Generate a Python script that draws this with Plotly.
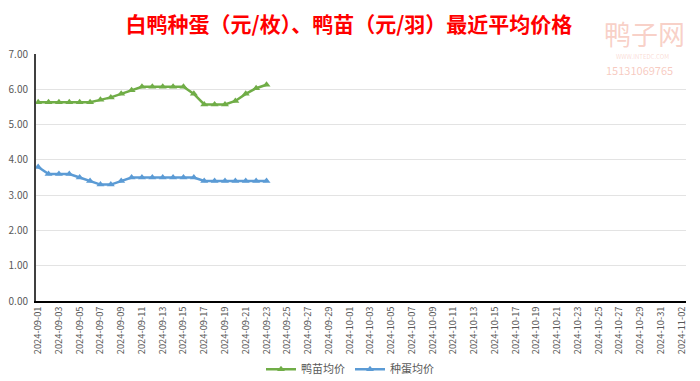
import pandas as pd
import plotly.graph_objects as go

dates = pd.date_range("2024-09-01", "2024-09-23", freq="D").strftime("%Y-%m-%d").tolist()
duckling_price = [5.63, 5.63, 5.63, 5.63, 5.63, 5.63, 5.70, 5.77, 5.87, 5.97, 6.07, 6.07,
                  6.07, 6.07, 6.07, 5.87, 5.57, 5.57, 5.57, 5.67, 5.87, 6.03, 6.13]
egg_price = [3.8, 3.6, 3.6, 3.6, 3.5, 3.4, 3.3, 3.3, 3.4, 3.5, 3.5, 3.5,
             3.5, 3.5, 3.5, 3.5, 3.4, 3.4, 3.4, 3.4, 3.4, 3.4, 3.4]
y_ticks = [0, 1, 2, 3, 4, 5, 6, 7]
y_tick_labels = ["0.00", "1.00", "2.00", "3.00", "4.00", "5.00", "6.00", "7.00"]
series_names = ["鸭苗均价", "种蛋均价"]
title_text = "白鸭种蛋（元/枚）、鸭苗（元/羽）最近平均价格"
watermark_name = "鸭子网"
watermark_site = "WWW.INTEDC.COM"
watermark_phone = "15131069765"

font_family = "Noto Sans CJK SC, Noto Sans, sans-serif"

W, H = 692, 388
T, B, L, R = 46, 92, 28, 14
PH = H - T - B  # plot height in px


def py(fig_y):
    """paper y for a figure-pixel y"""
    return (H - B - fig_y) / PH


def px(fig_x):
    return (fig_x - L) / (W - L - R)


fig = go.Figure()
fig.add_trace(go.Scatter(
    x=dates, y=duckling_price, name=series_names[0], mode="lines+markers",
    line=dict(color="#70ad47", width=2.5),
    marker=dict(symbol="triangle-up", size=7, color="#70ad47"),
))
fig.add_trace(go.Scatter(
    x=dates, y=egg_price, name=series_names[1], mode="lines+markers",
    line=dict(color="#5b9bd5", width=2.5),
    marker=dict(symbol="triangle-up", size=7, color="#5b9bd5"),
))

fig.update_layout(
    width=W, height=H,
    margin=dict(l=L, r=R, t=T, b=B),
    paper_bgcolor="white", plot_bgcolor="white",
    font=dict(family=font_family, color="#595959"),
    title=dict(text="<b>" + title_text + "</b>", x=341 / W, xanchor="center",
               y=1 - 17 / H, yanchor="middle",
               font=dict(size=21, color="#ff0000", family=font_family)),
    showlegend=True,
    legend=dict(orientation="h", x=px(342), xanchor="center",
                y=py(365), yanchor="middle",
                font=dict(size=11, color="#595959"), itemwidth=30,
                traceorder="normal"),
)

fig.update_xaxes(
    type="date",
    range=["2024-08-31 19:00", "2024-11-02 10:00"],
    tick0="2024-09-01", dtick=2 * 86400000, tickformat="%Y-%m-%d",
    tickangle=-90, tickfont=dict(size=9.3, color="#595959"),
    showgrid=False, showline=True, linecolor="#000000", linewidth=1.5,
    ticks="", zeroline=False, automargin=False,
)
fig.update_yaxes(
    range=[0, 7], tickvals=y_ticks, ticktext=y_tick_labels,
    tickfont=dict(size=10, color="#595959"),
    showgrid=True, gridcolor="#e3e3e3", gridwidth=1,
    showline=True, linecolor="#404040", linewidth=2, zeroline=False,
    ticks="", ticklen=0, automargin=False, ticklabelstandoff=4,
)

# watermark
fig.add_annotation(text=watermark_name, xref="paper", yref="paper", x=px(636),
                   y=py(25), xanchor="center", yanchor="middle", showarrow=False,
                   font=dict(size=27, color="rgba(240,150,130,0.45)", family=font_family))
fig.add_annotation(text=watermark_site, xref="paper", yref="paper", x=px(634),
                   y=py(49), xanchor="center", yanchor="middle", showarrow=False,
                   font=dict(size=6, color="rgba(240,150,130,0.35)", family=font_family))
fig.add_annotation(text=watermark_phone, xref="paper", yref="paper", x=px(631),
                   y=py(62), xanchor="center", yanchor="middle", showarrow=False,
                   font=dict(size=11, color="rgba(240,150,130,0.5)", family=font_family))

fig.write_html("out.html")
